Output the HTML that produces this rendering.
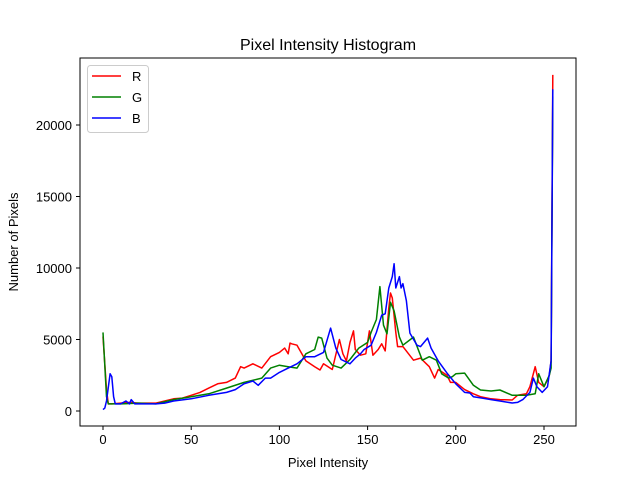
<!DOCTYPE html>
<html><head><meta charset="utf-8"><style>
body{margin:0;background:#fff;}
svg{display:block;font-family:"Liberation Sans","DejaVu Sans",sans-serif;}
</style></head><body>
<svg id="chart" width="640" height="480">
<rect width="640" height="480" fill="#fff"/>
<text x="328" y="50" text-anchor="middle" font-size="16">Pixel Intensity Histogram</text>
<g id="series"></g>
<g id="axes"></g>
<rect x="80" y="58" width="496" height="368" fill="none" stroke="#000" stroke-width="1"/>
<text x="328" y="467" text-anchor="middle" font-size="13">Pixel Intensity</text>
<text transform="translate(18,242) rotate(-90)" text-anchor="middle" font-size="13">Number of Pixels</text>
<g>
<rect x="87.5" y="65.5" width="61" height="67" rx="3" fill="#fff" fill-opacity="0.8" stroke="#ccc"/>
<line x1="92" y1="76" x2="121" y2="76" stroke="red" stroke-width="1.5"/>
<text x="132" y="81" font-size="13">R</text>
<line x1="92" y1="97" x2="121" y2="97" stroke="green" stroke-width="1.5"/>
<text x="132" y="102" font-size="13">G</text>
<line x1="92" y1="118" x2="121" y2="118" stroke="blue" stroke-width="1.5"/>
<text x="132" y="123" font-size="13">B</text>
</g>
</svg>
<script>
const xTicks=[0,50,100,150,200,250];
const yTicks=[0,5000,10000,15000,20000];
const rX=[0,2,3,5,10,15,20,25,30,35,40,45,50,55,60,65,70,75,78,80,85,90,95,100,103,105,106,107,110,115,120,123,125,130,134,136,138,140,142,143,146,149,151,153,156,158,160,162,163,164,166,167,170,176,180,185,188,190,195,197,200,205,210,214,220,225,232,235,240,242,245,247,250,252,253,254,255];
const rV=[5200,1500,500,500,550,600,550,550,550,700,850,900,1100,1300,1600,1900,2000,2300,3100,3000,3300,3000,3800,4100,4400,4000,4750,4700,4600,3500,3100,2870,3300,2900,5000,4000,3500,4800,5600,4300,3900,4000,5600,3900,4300,4700,4200,7200,8250,7900,5500,4500,4500,3550,3700,3100,2300,2900,2500,2000,2000,1500,1200,1000,850,800,770,1100,1200,1700,3100,2000,1700,2200,2500,3500,23500];
const gX=[0,2,3,10,20,30,40,50,60,70,80,90,95,100,105,110,115,120,122,124,127,130,135,140,145,150,152,155,157,159,161,163,165,168,170,176,181,185,189,192,196,198,200,205,210,214,220,225,232,235,240,245,247,250,253,254,255];
const gV=[5500,1000,500,500,550,500,800,1000,1200,1600,2000,2300,3000,3200,3100,3000,4000,4300,5170,5100,3700,3200,3000,3600,4400,4800,5500,6400,8700,6000,5400,7600,7000,5170,4600,5170,3550,3800,3550,2600,2300,2400,2600,2650,1800,1470,1400,1470,1100,1100,1100,1200,2600,1700,2500,3000,22000];
const bX=[0,1,2,4,5,6,7,10,13,15,16,18,25,30,35,40,50,60,70,75,80,85,88,92,95,100,105,110,115,120,125,129,132,135,140,143,146,148,152,155,158,160,162,164,165,166,168,169,170,172,174,178,180,184,186,190,195,200,205,208,210,215,220,225,232,235,238,242,244,246,249,252,254,255];
const bV=[100,200,700,2600,2400,1000,500,500,700,500,800,500,500,500,550,700,850,1100,1300,1500,1900,2100,1800,2300,2300,2700,3000,3300,3800,3800,4100,5800,4400,3600,3300,3700,4000,4300,4600,5500,6700,6800,8600,9400,10300,8600,9400,8600,8900,7700,5450,4600,4500,5100,4400,3500,2650,1900,1300,1260,1000,900,800,700,560,600,800,1300,2300,1700,1300,1700,3500,22500];
const NS='http://www.w3.org/2000/svg';
const xs=v=>103+v*1.764;
const ys=v=>411-v*0.0143;
const axes=document.getElementById('axes');
xTicks.forEach(t=>{
  const l=document.createElementNS(NS,'line');
  l.setAttribute('x1',xs(t));l.setAttribute('x2',xs(t));l.setAttribute('y1',426);l.setAttribute('y2',430);l.setAttribute('stroke','#000');
  
  
  axes.appendChild(l);
  const tx=document.createElementNS(NS,'text');
  tx.setAttribute('x',xs(t));tx.setAttribute('y',444);tx.setAttribute('text-anchor','middle');tx.setAttribute('font-size','13');
  tx.textContent=t;
  
  
  axes.appendChild(tx);
});
yTicks.forEach(t=>{
  const l=document.createElementNS(NS,'line');
  l.setAttribute('x1',76);l.setAttribute('x2',80);l.setAttribute('y1',ys(t));l.setAttribute('y2',ys(t));l.setAttribute('stroke','#000');
  
  
  axes.appendChild(l);
  const tx=document.createElementNS(NS,'text');
  tx.setAttribute('x',72);tx.setAttribute('y',ys(t)+5);tx.setAttribute('text-anchor','end');tx.setAttribute('font-size','13');
  tx.textContent=t;
  
  
  axes.appendChild(tx);
});
const sg=document.getElementById('series');
[[rX,rV,'red','r'],[gX,gV,'green','g'],[bX,bV,'blue','b']].forEach(([X,V,c,n])=>{
  const p=document.createElementNS(NS,'polyline');
  p.setAttribute('points',X.map((x,i)=>xs(x).toFixed(1)+','+ys(V[i]).toFixed(1)).join(' '));
  p.setAttribute('fill','none');p.setAttribute('stroke',c);p.setAttribute('stroke-width','1.5');p.setAttribute('stroke-linejoin','round');
  
  
  sg.appendChild(p);
});
</script>
</body></html>
